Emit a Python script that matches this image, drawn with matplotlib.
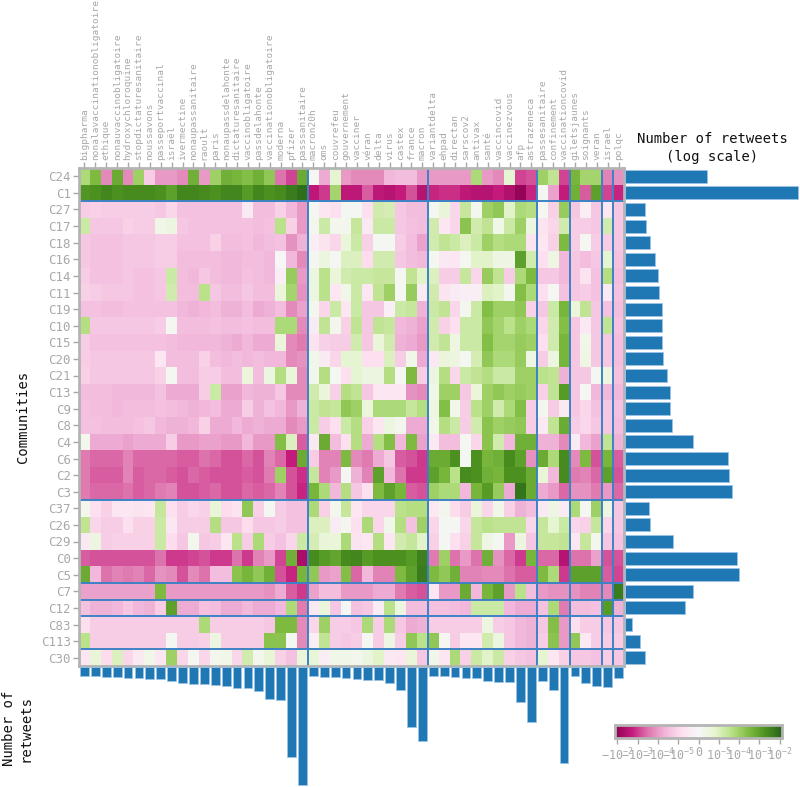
import numpy as np
import matplotlib
matplotlib.use('Agg')
import matplotlib.pyplot as plt
from matplotlib.colors import Normalize

plt.rcParams['font.family'] = 'DejaVu Sans Mono'
plt.rcParams['mathtext.fontset'] = 'custom'
plt.rcParams['mathtext.rm'] = 'DejaVu Sans Mono'
plt.rcParams['mathtext.it'] = 'DejaVu Sans Mono'

GRAY = '#a8a8a8'
BLUE = '#1f77b4'
SEP = '#3d82c4'

hashtags = ['bigpharma', 'nonalavaccinationobligatoire', 'ethique', 'nonauvaccinobligatoire',
            'hydroxychloroquine', 'stopdictaturesanitaire', 'noussavons', 'passeportvaccinal',
            'israël', 'ivermectine', 'nonaupassanitaire', 'raoult', 'paris', 'nonaupassdelahonte',
            'dictaturesanitaire', 'vaccinobligatoire', 'passdelahonte', 'vaccinationobligatoire',
            'moderna', 'pfizer', 'passsanitaire', 'macron20h', 'oms', 'couvrefeu', 'gouvernement',
            'vacciner', 'véran', 'delta', 'virus', 'castex', 'france', 'macron', 'variantdelta',
            'ehpad', 'directan', 'sarscov2', 'antivax', 'santé', 'vaccincovid', 'vaccinezvous',
            'afp', 'astrazeneca', 'passesanitaire', 'confinement', 'vaccinationcovid',
            'giletsjaunes', 'soignants', 'veran', 'israel', 'polqc']

communities = ['C24', 'C1', 'C27', 'C17', 'C18', 'C16', 'C14', 'C11', 'C19', 'C10', 'C15',
               'C20', 'C21', 'C13', 'C9', 'C8', 'C4', 'C6', 'C2', 'C3', 'C37', 'C26', 'C29',
               'C0', 'C5', 'C7', 'C12', 'C83', 'C113', 'C30']

# retweets per community (log scale on the right)
community_retweets = [23000, 764000, 2150, 2240, 2610, 3160, 3550, 3690, 4140, 4100, 4200,
                      4300, 5000, 5600, 5600, 6100, 13600, 52000, 54000, 60700, 2500, 2600,
                      6300, 73600, 79400, 13600, 10000, 1300, 1800, 2150]

# retweets per hashtag (bottom bars)
hashtag_retweets = [9000, 9300, 10000, 10000, 10700, 11000, 12000, 12000, 13700, 16300,
                    16700, 17300, 17700, 19300, 20700, 20700, 24300, 32300, 33300, 89700,
                    118300, 9000, 9700, 10000, 11000, 11700, 12700, 12700, 15700, 22700,
                    60300, 73700, 9000, 9300, 9700, 11000, 11300, 13700, 15300, 15300,
                    35300, 54700, 14300, 23300, 95700, 9000, 16000, 19300, 20000, 11000]

row_groups = [2, 18, 5, 1, 1, 2, 1]
col_groups = [21, 11, 10, 3, 3, 1, 1]

# cell scores on a symlog scale: sign * decades above 1e-5 (|x| <= 1 is the linear part)
row_c24 = [1.8, 2.5, -2.2, 2.8, -2.2, 2.0, -1.2, -2.0, -2.0, -2.2, 2.7, -2.0, 2.0, 2.7, 2.6, 2.4, 2.7, 2.2, -2.5, -2.9, 2.8, 0.1,
           -1.8, 0.8, -2.0, -2.2, -2.2, -2.2, -1.6, -1.5, -1.5, -2.0, -2.0, -2.0, -2.0, -2.0, 1.8, -2.0, -2.2, 0.8, -2.9, -2.8, 2.0, 1.5, -2.9, 2.6, 1.9, 1.9, -2.3, -2.1]
row_c1 = [3.2, 3.3, 3.5, 3.3, 3.4, 3.4, 3.4, 3.3, 3.0, 3.5, 3.5, 3.4, 3.3, 3.5, 3.5, 3.1, 3.5, 3.3, 3.4, 3.7, 3.9, -3.4,
          -3.0, 1.9, -3.4, -3.4, -2.7, -3.4, -3.5, -3.3, -2.8, -3.5, -3.2, -3.1, -3.1, -3.4, -3.5, -3.5, -3.3, -3.6, -4.0, -3.2, 0.1, -1.9, -3.3, 2.7, -2.7, 3.0, -2.9, -3.2]
row_c27 = [-1.2, -1.1, -1.2, -1.2, -1.2, -1.2, -1.2, -1.3, -1.0, -1.4, -1.4, -1.4, -1.4, -1.4, -1.4, -0.5, -1.5, -1.5, -1.1, -1.6, -2.0, 0.1,
           -0.6, -0.8, 0.1, 0.1, -0.8, 1.2, 1.1, -1.3, -1.5, -1.5, 0.1, 0.7, -1.0, 1.4, 0.2, 2.0, 2.2, 0.9, 1.8, 1.7, 0.1, -1.1, 2.1, -1.3, -0.3, -1.3, -0.6, -1.3]
row_c17 = [1.3, -1.3, -1.3, -1.3, -1.1, -1.2, -1.2, 0.3, 0.5, -1.3, -1.4, -1.4, -1.4, -1.4, -1.4, -1.4, -1.5, -1.4, 1.6, -1.1, -2.0, 0.2,
           1.3, 0.2, 0.2, 1.4, -0.5, 1.3, 1.3, -1.3, -1.4, -1.5, 1.2, -0.6, -1.0, 2.3, 1.2, 1.5, 0.3, 1.3, 2.0, 0.5, -0.7, -1.0, 1.2, -1.2, -1.2, -1.3, 1.2, -1.3]
row_c18 = [-1.3, -1.4, -1.4, -1.4, -1.3, -1.3, -1.3, -1.2, -1.2, -1.4, -1.4, -1.4, -1.1, -1.5, -1.5, -1.4, -1.6, -1.5, -1.4, -2.1, -1.7, -0.3,
           -0.7, -1.0, 0.6, 1.3, -1.1, 0.1, 0.1, -1.2, -1.5, -1.9, 1.2, 1.5, 1.3, 1.0, 1.3, 2.0, 1.7, 1.8, 1.8, -0.7, -0.6, -1.1, 2.5, -1.2, 0.1, -1.2, -1.2, -1.3]
row_c16 = [-1.3, -1.4, -1.4, -1.4, -1.3, -1.3, -1.3, -1.2, -1.2, -1.5, -1.5, -1.5, -1.5, -1.6, -1.6, -1.5, -1.5, -1.6, 0.0, -1.6, -2.2, 0.1,
           0.5, 0.1, 1.0, 1.0, -0.9, 1.2, 1.2, -1.3, -1.5, -1.6, 0.1, -0.5, -0.6, 0.1, 0.9, 0.9, 0.4, 0.4, 3.0, 1.2, -0.8, 0.4, -1.6, -1.3, -1.5, -1.3, 0.8, -1.4]
row_c14 = [-1.2, -1.4, -1.4, -1.4, -1.3, -1.4, -1.4, -1.3, 1.3, -1.5, -1.6, -1.3, -1.5, -1.6, -1.6, -1.4, -1.5, -1.6, -0.3, 2.1, -2.0, 0.5,
           1.6, 0.6, 1.2, 1.3, 1.3, 1.4, 1.4, 0.1, 1.5, 0.9, 1.0, -1.2, -1.2, 1.4, -1.0, 2.1, 1.5, -1.2, 1.8, 2.5, -1.3, -1.3, -1.6, -1.3, -0.7, -1.4, 1.7, -1.5]
row_c11 = [-1.1, -1.2, -1.3, -1.3, -1.3, -1.4, -1.4, -1.3, 1.2, -1.5, -1.5, 1.6, -1.3, -1.5, -1.5, -1.3, -1.5, -1.5, 0.6, 1.9, -2.1, 0.5,
           1.6, -0.6, 0.3, 1.3, -0.6, 1.5, 2.0, 0.1, 2.1, -0.4, 1.2, -0.7, -0.4, -0.3, -0.3, 1.0, 0.9, 0.2, 2.4, 1.8, -0.8, 0.1, -1.4, -1.3, -1.2, -1.4, -0.5, -1.4]
row_c19 = [-1.4, -1.4, -1.5, -1.5, -1.4, -1.4, -1.4, -1.4, -1.4, -1.6, -1.7, -1.6, -1.5, -1.7, -1.7, -1.5, -1.8, -1.7, -1.5, -2.2, -1.9, 0.2,
           -1.0, 1.3, -0.6, 1.3, -1.3, -1.3, -0.3, 1.3, 1.4, -1.7, 1.3, 1.5, -1.0, 0.2, 1.3, 2.4, 2.0, 2.0, 2.2, -1.1, -1.3, 1.3, 2.6, 0.6, 1.5, -1.3, -1.4, -1.5]
row_c10 = [1.7, -1.3, -1.3, -1.3, -1.3, -1.3, -1.3, -1.2, 0.1, -1.5, -1.5, -1.5, -1.4, -1.5, -1.5, -1.4, -1.5, -1.5, 1.8, 1.8, -2.2, -0.4,
           1.5, 0.2, -1.1, 1.5, -1.3, 1.5, 1.4, -1.6, -1.7, -1.9, 1.2, -1.1, -0.8, 1.3, 1.3, 2.2, 1.9, 1.6, 2.0, 1.8, -1.0, 1.2, 2.4, -1.3, -0.5, -1.3, 1.5, -1.4]
row_c15 = [-1.2, -1.4, -1.4, -1.4, -1.4, -1.4, -1.4, -1.4, -1.5, -1.6, -1.6, -1.6, -1.6, -1.7, -1.8, -1.6, -1.8, -1.8, 0.6, -2.2, -2.4, -0.7,
           -1.1, -1.2, -1.2, 1.2, -1.3, 0.6, 1.2, -1.7, -1.8, -2.0, 1.2, 1.5, 0.4, 1.3, 1.3, 2.4, 1.9, 1.9, 2.1, 2.0, -0.8, 1.2, 2.6, -1.3, 0.3, -1.3, -1.3, -1.5]
row_c20 = [-1.2, -1.3, -1.3, -1.3, -1.3, -1.3, -1.3, -0.6, -1.5, -1.5, -1.5, -1.1, -1.5, -1.6, -1.5, -1.6, -1.5, -1.6, -1.6, -2.2, -2.1, 0.3,
           -0.4, -1.0, 0.8, 0.8, -0.8, -0.8, 1.0, -1.2, 0.3, -1.8, -0.5, 0.6, 0.5, 0.1, 1.1, 2.2, 1.8, 1.8, 2.1, 0.4, -1.2, 0.5, 2.6, -1.3, 0.4, -1.3, -1.3, -1.5]
row_c21 = [-1.1, -1.3, -1.3, -1.3, -1.3, -1.3, -1.3, -1.1, 0.1, -1.5, -1.5, -1.2, -1.2, -1.5, -1.5, 0.6, -1.5, 0.5, 1.7, 0.6, -2.2, 0.2,
           1.7, 0.1, -0.8, 0.8, 0.5, 0.5, 1.7, 0.1, 2.5, -1.2, 0.5, 1.7, -1.0, 1.3, 1.5, 1.7, 1.3, 1.3, 2.0, 2.0, 1.6, 1.5, -1.7, -1.3, -1.3, 0.1, 0.5, -1.4]
row_c13 = [-1.5, -1.5, -1.5, -1.6, -1.6, -1.6, -1.6, -1.4, -1.8, -1.8, -1.8, -1.2, 1.3, -1.9, -1.9, -1.6, -1.7, -1.7, -1.3, -2.2, -2.2, 1.2,
           0.6, -1.1, 1.7, 1.5, -1.3, -0.6, -0.6, -0.6, -2.1, -2.2, 0.3, 2.0, 2.0, -1.3, 0.6, 2.0, 2.2, 2.0, 2.1, 2.0, -1.1, 1.5, 3.1, -1.3, 0.1, -1.6, -1.6, -1.6]
row_c9 = [-1.4, -1.5, -1.5, -1.6, -1.5, -1.5, -1.5, -1.4, -1.5, -1.6, -1.7, -1.6, -1.5, -1.8, -1.8, -1.2, -1.7, -1.4, -1.6, -2.0, -1.7, 1.3,
          1.5, 1.4, 2.2, 2.0, 0.6, 1.8, 1.8, 1.8, 1.4, 1.7, 0.4, 2.4, 0.3, -1.2, 1.6, 2.0, 1.2, 1.8, 2.4, -1.2, 0.2, -1.2, -0.5, -1.3, -1.0, -1.4, -1.3, -1.4]
row_c8 = [-1.4, -1.4, -1.5, -1.5, -1.5, -1.4, -1.3, -1.6, -1.7, -1.7, -1.6, -1.1, -1.8, -1.8, -1.6, -1.8, -1.7, -1.8, -1.8, -2.2, -2.0, 1.3,
          -1.2, -0.8, 1.3, 1.7, -1.1, -0.6, 0.5, 0.2, -1.8, -1.8, 0.3, 1.7, 1.3, -1.2, 1.2, 2.3, 2.0, 2.1, 2.2, -1.2, -0.5, 1.5, 2.8, -1.2, -1.0, -1.3, -1.3, -1.5]
row_c4 = [0.2, -1.8, -1.8, -1.8, -1.9, -1.8, -1.8, -1.8, -1.2, -2.0, -2.0, -1.9, -1.9, -2.0, -2.0, -1.6, -2.0, -2.0, 2.4, 1.0, -2.7, -0.5,
          2.8, -1.5, -0.8, 1.7, -1.8, 1.7, 2.4, -1.6, 2.5, -1.9, -0.5, -1.5, -1.5, 0.1, -1.0, 2.3, 1.2, -1.6, 2.7, 2.7, -1.7, -1.7, -2.2, -0.4, -1.6, -1.9, 1.5, -1.7]
row_c6 = [-2.4, -2.6, -2.6, -2.6, -2.3, -2.6, -2.6, -2.6, -2.6, -2.7, -2.7, -2.5, -2.6, -2.8, -2.8, -2.6, -2.8, -2.3, -2.6, -3.3, 2.8, -1.2,
          -2.3, -2.3, 2.5, -2.2, -2.4, -1.8, -1.3, -2.7, -2.8, -3.0, 2.8, 2.8, 3.3, 0.1, 3.3, 2.6, 2.7, 3.4, 3.0, -2.1, 2.8, 1.8, 3.4, -2.2, 2.5, -2.8, 2.6, -2.7]
row_c2 = [-2.4, -2.7, -2.7, -2.7, -2.3, -2.7, -2.6, -2.6, -2.7, -2.8, -2.6, -2.7, -2.8, -2.8, -2.8, -2.7, -2.8, -2.4, 2.0, -2.8, -3.1, 1.4,
          -2.3, -2.0, 0.1, -1.7, -2.3, 3.0, -1.6, -2.5, -3.0, -3.0, 3.0, 2.6, 1.6, 3.4, 3.3, 2.7, 2.6, 3.3, 3.3, 2.8, 0.7, -1.6, 3.4, -2.4, -2.3, -2.6, 3.0, -2.8]
row_c3 = [-2.4, -2.6, -2.6, -2.6, -2.5, -2.7, -2.6, -2.4, -2.3, -2.8, -2.8, -2.7, -2.6, -2.8, -2.8, -2.6, -2.7, -2.6, -2.3, -2.8, -3.2, 2.6,
          1.8, -1.6, 1.7, -1.3, -0.8, 2.5, 3.0, 2.6, -2.7, -2.8, 2.0, 1.8, 1.8, -1.6, 2.6, 3.1, 2.1, -1.8, 3.8, 2.8, -1.8, -2.0, -2.6, -2.1, -2.1, -2.4, -2.0, -2.6]
row_c37 = [0.2, -0.8, -1.1, -0.6, -0.6, -0.7, -0.6, 1.4, -0.8, -1.2, -1.0, -1.1, 0.7, -0.9, -0.7, 2.2, -1.1, 0.1, -1.2, -1.4, -1.4, 1.8,
           -1.1, 0.2, 1.4, -0.6, -1.0, -1.0, -1.0, 1.6, 1.7, 1.7, -0.5, 0.2, -0.9, -1.2, 0.6, -1.0, 0.3, -1.1, -1.7, -1.5, -0.5, 0.4, -0.4, 1.8, 0.1, 2.0, 0.4, -1.3]
row_c26 = [1.5, -1.0, -1.2, -1.2, -0.8, -1.1, -1.1, 1.3, -0.6, -1.2, -1.2, -1.2, 1.7, -1.3, -1.3, -0.9, -1.3, -1.3, -1.2, -1.4, -1.4, 1.0,
           1.0, -0.4, 0.2, -0.8, 1.8, -1.0, 0.3, 1.7, -1.4, 2.0, -1.0, 0.1, 0.1, -1.0, 1.4, 1.6, 1.5, 1.5, 1.5, -1.0, 1.4, 0.8, 1.3, -1.0, -1.1, 1.4, -1.0, -1.3]
row_c29 = [-0.5, 0.5, -1.2, -1.1, -1.1, -1.1, -1.1, 1.3, -0.9, -1.3, 0.2, -1.3, -1.2, -0.6, 1.6, -1.2, 1.8, -1.2, -1.4, -1.0, 1.3, 1.1,
           0.7, 0.6, 1.8, -0.7, -0.6, 1.7, -0.6, 1.2, 1.4, 0.9, -1.1, 0.1, -0.8, -1.1, 1.4, 0.4, 0.1, -2.0, 0.5, -1.3, 1.4, 1.4, 1.5, -0.6, 1.4, 0.2, -1.3, -1.4]
row_c0 = [-2.7, -2.8, -2.8, -2.8, -2.8, -2.8, -2.8, -2.5, -3.0, -3.0, -2.9, -2.8, -3.0, -3.0, -2.5, -3.0, -2.3, -2.0, -2.9, 2.7, -3.7, 3.4,
          3.1, 2.9, 3.4, 3.5, 3.1, 3.3, 3.3, 3.3, 3.1, 3.6, -2.4, 2.0, -2.5, -2.0, -2.5, 2.7, -2.1, -2.6, -3.0, 2.6, -2.6, -2.6, -3.5, -2.5, -2.5, -1.9, -2.8, -2.8]
row_c5 = [2.8, -1.6, -2.5, -2.3, -2.4, -2.3, -2.6, -2.1, -2.2, -2.8, -2.2, -2.5, -1.5, -1.5, 2.3, 2.6, 2.2, 2.7, -2.8, -3.2, 2.6, 2.2,
          -2.0, -1.9, 2.4, -2.6, -1.6, -2.3, -2.3, 2.5, 3.0, 3.7, 2.5, 2.2, 2.7, -2.3, -2.3, -2.2, -2.2, -2.5, -2.7, -2.7, 2.5, 1.8, -3.0, 3.0, 3.0, 3.0, -2.7, -2.9]
row_c7 = [-1.9, -1.9, -1.9, -1.9, -1.9, -1.9, -1.9, 2.5, -2.0, -2.0, -2.0, -2.0, -2.0, -2.0, -2.0, -2.0, -2.0, -2.1, -1.8, -2.7, -3.0, -1.9,
          -1.5, -1.5, -2.0, -2.0, -2.0, -1.8, -1.8, -2.4, -2.7, -2.8, -0.6, -2.0, -2.0, 2.8, -1.6, 2.6, 3.0, -2.0, 1.6, -1.5, -2.0, -2.1, -2.1, -2.1, -2.3, -2.3, -2.2, 3.7]
row_c12 = [-1.4, -1.7, -1.7, -1.6, -1.3, -1.6, -1.7, -1.2, 3.0, -1.8, -1.8, -1.4, -1.5, -1.8, -1.8, -1.6, -1.8, -1.8, -1.6, 1.8, -2.4, -0.5,
           0.6, -1.3, 0.1, -1.4, -1.3, -0.4, 1.6, 0.5, -1.5, -1.5, -1.4, -1.4, -1.5, -1.6, 1.3, 1.3, 1.3, -1.6, -1.8, -1.8, -1.4, 1.8, -2.4, -1.5, -1.5, -1.4, 3.1, -1.7]
row_c83 = [-0.8, -1.2, -1.2, -1.2, -1.2, -1.2, -1.2, -1.2, -1.2, -1.2, -1.2, 1.8, -1.2, -1.2, -1.2, -1.2, -1.2, -1.3, 2.5, 2.5, -2.2, -1.0,
           2.0, -1.2, -1.2, -1.3, 1.8, -1.2, 1.8, -1.3, -1.8, -1.7, -1.2, -1.2, -1.2, -1.2, -1.2, 0.5, -1.2, -1.3, -1.6, -1.7, -1.3, 2.4, -2.0, -0.8, -1.2, -1.2, -1.3, -1.3]
row_c113 = [1.6, -1.2, -1.2, -1.2, -1.2, -1.2, -1.2, -1.2, 0.1, -1.2, -1.2, -1.1, 0.5, -1.2, -1.2, -1.2, -1.2, 2.3, 2.3, 0.1, -2.2, -0.3,
            1.5, -1.2, -1.3, -1.2, 0.1, -1.2, 0.4, -1.2, 2.2, 1.6, 2.2, 0.1, -1.2, -0.6, -0.6, 1.2, 0.5, -1.3, -1.6, -1.7, -1.2, 2.3, -2.0, 2.2, -0.5, -1.2, -1.2, -1.2]
row_c30 = [-0.6, 0.7, -0.9, 1.0, -1.0, -0.5, 0.3, -0.6, 2.0, -1.0, 0.1, -1.0, 0.2, 0.3, -1.0, 1.2, 0.2, 0.7, -1.1, -1.4, 0.6, 0.7,
           -0.3, 0.3, 0.3, 0.2, 0.5, 0.9, -0.5, -0.6, 0.6, -1.3, 0.3, -0.6, 1.8, -1.1, 1.3, 0.9, 1.3, -1.1, -1.3, -1.4, 0.8, -0.6, -1.1, -1.3, -1.3, -1.4, -1.2, -1.3]

scores = np.array([row_c24, row_c1, row_c27, row_c17, row_c18, row_c16, row_c14, row_c11,
                   row_c19, row_c10, row_c15, row_c20, row_c21, row_c13, row_c9, row_c8,
                   row_c4, row_c6, row_c2, row_c3, row_c37, row_c26, row_c29, row_c0, row_c5,
                   row_c7, row_c12, row_c83, row_c113, row_c30])

W, H = 800, 787
fig = plt.figure(figsize=(W / 100, H / 100), dpi=100)


def box(x0, y0, x1, y1):
    # pixel box (top-left origin) -> figure fraction rect
    return [x0 / W, 1 - y1 / H, (x1 - x0) / W, (y1 - y0) / H]


# heatmap
ax = fig.add_axes(box(79, 168, 624, 666))
im = ax.imshow(scores, cmap='PiYG', norm=Normalize(-4.12, 4.12), aspect='auto',
               interpolation='nearest')
for pos in np.cumsum(col_groups)[:-1]:
    ax.axvline(pos - 0.5, color=SEP, lw=1.4)
for pos in np.cumsum(row_groups)[:-1]:
    ax.axhline(pos - 0.5, color=SEP, lw=1.4)

ax.xaxis.tick_top()
ax.set_xticks(range(len(hashtags)))
ax.set_xticklabels(hashtags, rotation=90, fontsize=6.8, color=GRAY)
ax.set_yticks(range(len(communities)))
ax.set_yticklabels(communities, fontsize=9, color=GRAY)
ax.tick_params(color=GRAY, length=4, width=1, pad=2)
for sp in ax.spines.values():
    sp.set_color('#b4b4b4')
    sp.set_linewidth(2)

# community bars, right side
axr = fig.add_axes(box(625, 168, 800, 666))
xmin, xmax = 1000, 10 ** (3 + 175 / 60)
axr.barh(range(len(communities)), np.array(community_retweets) - xmin, left=xmin,
         height=0.78, color=BLUE, edgecolor='#9cc3e6', linewidth=0.6)
axr.set_xscale('log')
axr.set_xlim(xmin, xmax)
axr.set_ylim(len(communities) - 0.5, -0.5)
axr.axis('off')

# hashtag bars, bottom
axb = fig.add_axes(box(79, 667, 624, 787))
axb.bar(range(len(hashtags)), hashtag_retweets, width=0.8, color=BLUE,
        edgecolor='#9cc3e6', linewidth=0.6)
axb.set_xlim(-0.5, len(hashtags) - 0.5)
axb.set_ylim(120000, 0)
axb.axis('off')

# colour bar
cax = fig.add_axes(box(615, 725, 782, 738))
cb = fig.colorbar(im, cax=cax, orientation='horizontal', ticks=range(-4, 5))
cb.set_ticklabels([r'$-10^{-2}$', r'$-10^{-3}$', r'$-10^{-4}$', r'$-10^{-5}$', '0',
                   r'$10^{-5}$', r'$10^{-4}$', r'$10^{-3}$', r'$10^{-2}$'])
cax.tick_params(colors=GRAY, labelsize=8.5, length=4, width=1, pad=2)
cb.outline.set_edgecolor('#b4b4b4')
cb.outline.set_linewidth(2)

# titles
fig.text(712 / W, 1 - 148 / H, 'Number of retweets\n(log scale)', ha='center', va='center',
         fontsize=10, color='#111111', linespacing=1.3)
fig.text(23 / W, 1 - 417 / H, 'Communities', rotation=90, ha='center', va='center',
         fontsize=10, color='#111111')
fig.text(17 / W, 1 - 728 / H, 'Number of\nretweets', rotation=90, ha='center', va='center',
         fontsize=10, color='#111111', linespacing=1.2)

fig.savefig('out.png', dpi=100)
